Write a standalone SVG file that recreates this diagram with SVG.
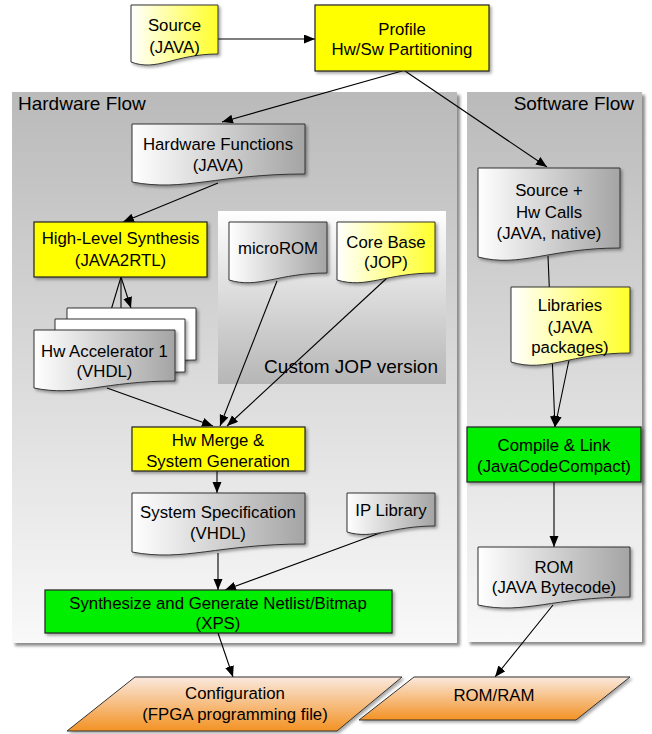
<svg xmlns="http://www.w3.org/2000/svg" width="652" height="734" viewBox="0 0 652 734">
<defs>
<linearGradient id="gPanel" x1="0" y1="0" x2="0" y2="1"><stop offset="0" stop-color="#bababa"/><stop offset="1" stop-color="#f9f9f9"/></linearGradient>
<linearGradient id="gJop" x1="0" y1="0" x2="0" y2="1"><stop offset="0" stop-color="#ffffff"/><stop offset="1" stop-color="#b6b6b6"/></linearGradient>
<linearGradient id="gGray" x1="0" y1="0" x2="1" y2="0"><stop offset="0" stop-color="#ffffff"/><stop offset="1" stop-color="#a4a4a4"/></linearGradient>
<linearGradient id="gYel" x1="0" y1="0" x2="1" y2="0"><stop offset="0" stop-color="#ffffff"/><stop offset="1" stop-color="#ffff2a"/></linearGradient>
<linearGradient id="gOr" x1="0" y1="0" x2="0" y2="1"><stop offset="0" stop-color="#fae9de"/><stop offset="1" stop-color="#f39224"/></linearGradient>
<filter id="sh" x="-10%" y="-10%" width="130%" height="130%"><feDropShadow dx="2" dy="2" stdDeviation="1.5" flood-color="#000" flood-opacity="0.35"/></filter>
<filter id="shp" x="-5%" y="-5%" width="115%" height="115%"><feDropShadow dx="3" dy="3" stdDeviation="1.5" flood-color="#000" flood-opacity="0.45"/></filter>
<marker id="ah" markerUnits="userSpaceOnUse" markerWidth="12" markerHeight="10" refX="11" refY="4.5" orient="auto"><path d="M0,0 L11,4.5 L0,9 Z" fill="#000"/></marker>
<style>
text{font-family:"Liberation Sans",Arial,sans-serif;font-size:16.8px;fill:#000;text-anchor:middle}
.lbl{font-size:19px}
.doc{stroke:#333;stroke-width:1;filter:url(#sh)}
.gray{fill:url(#gGray)}
.yel{fill:url(#gYel)}
.box{stroke:#222;stroke-width:1.2;filter:url(#sh)}
.ybox{fill:#ffff00}
.gbox{fill:#00ee00}
.out{fill:url(#gOr);stroke:#333;stroke-width:1;filter:url(#sh)}
.panel{fill:url(#gPanel);filter:url(#shp)}
#connectors path{fill:none;stroke:#000;stroke-width:1.1;marker-end:url(#ah)}
#connectors path.plain{marker-end:none}
</style>
</defs>
<g id="hardware-flow">
<rect class="panel" x="12" y="92" width="445" height="551"/>
<text class="lbl" x="18" y="110" style="text-anchor:start">Hardware Flow</text>
</g>
<g id="software-flow">
<rect class="panel" x="467" y="92" width="175" height="550"/>
<text class="lbl" x="634" y="110" style="text-anchor:end">Software Flow</text>
</g>
<g id="custom-jop">
<rect x="218" y="211" width="228" height="173" fill="url(#gJop)"/>
<text class="lbl" x="438" y="373" style="text-anchor:end">Custom JOP version</text>
</g>
<g id="connectors">
<path d="M218,39 L315,39"/>
<path d="M402,71 L222,122"/>
<path d="M405,71 L547,167"/>
<path d="M218,183 L123,222"/>
<path d="M121,277 L105,330"/>
<path d="M121,277 L121,319"/>
<path d="M121,277 L131,308"/>
<path d="M107,388 L213,426"/>
<path d="M277,281 L220,426"/>
<path d="M387,278 L227,426"/>
<path d="M217,471 L217,493"/>
<path d="M218,553 L218,590"/>
<path d="M388,530 L225,590"/>
<path d="M218,633 L233,677"/>
<path d="M548,256 L555,427"/>
<path d="M569,360 L555,427"/>
<path d="M554,482 L554,547"/>
<path d="M553,605 L495,677"/>
</g>
<g id="source">
<path class="doc yel" d="M131,5 H218 V54 C174.5,54 157.1,72 131,62 Z"/>
<text x="174.5" y="31">Source</text>
<text x="174.5" y="53">(JAVA)</text>
</g>
<g id="profile">
<rect class="box ybox" x="315" y="5" width="174" height="66"/>
<text x="402" y="35">Profile</text>
<text x="402" y="55">Hw/Sw Partitioning</text>
</g>
<g id="hardware-functions">
<path class="doc gray" d="M132,124 H305 V174 C218.5,174 183.9,192 132,182 Z"/>
<text x="218" y="150">Hardware Functions</text>
<text x="218" y="171">(JAVA)</text>
</g>
<g id="hls">
<rect class="box ybox" x="34" y="222" width="173" height="55"/>
<text x="120.5" y="244">High-Level Synthesis</text>
<text x="120.5" y="266">(JAVA2RTL)</text>
</g>
<g id="microrom">
<path class="doc gray" d="M229,222 H327 V273 C278,273 258.4,289 229,280 Z"/>
<text x="278" y="254">microROM</text>
</g>
<g id="core-base">
<path class="doc yel" d="M337,222 H435 V273 C386,273 366.4,289 337,280 Z"/>
<text x="386" y="248">Core Base</text>
<text x="386" y="268">(JOP)</text>
</g>
<g id="hw-accelerator">
<path class="doc" fill="#fff" d="M67,308 H196 V360 C131.5,360 105.7,378 67,368 Z"/>
<path class="doc" fill="#fff" d="M55,319 H185 V372 C120,372 94,390 55,380 Z"/>
<path class="doc gray" d="M34,330 H175 V381 C104.5,381 76.3,397 34,388 Z"/>
<text x="104.5" y="357">Hw Accelerator 1</text>
<text x="104.5" y="377">(VHDL)</text>
</g>
<g id="hw-merge">
<rect class="box ybox" x="132" y="427" width="173" height="44"/>
<text x="218" y="446">Hw Merge &amp;</text>
<text x="218" y="467">System Generation</text>
</g>
<g id="system-specification">
<path class="doc gray" d="M132,493 H305 V544 C218.5,544 183.9,562 132,552 Z"/>
<text x="218" y="518">System Specification</text>
<text x="218" y="539">(VHDL)</text>
</g>
<g id="ip-library">
<path class="doc gray" d="M347,493 H435 V526 C391,526 373.4,540 347,532 Z"/>
<text x="391" y="516">IP Library</text>
</g>
<g id="synthesize">
<rect class="box gbox" x="45" y="590" width="347" height="43"/>
<text x="218" y="609">Synthesize and Generate Netlist/Bitmap</text>
<text x="218" y="629">(XPS)</text>
</g>
<g id="source-hw-calls">
<path class="doc gray" d="M478,168 H620 V248 C549,248 520.6,268 478,257 Z"/>
<text x="549" y="196">Source +</text>
<text x="549" y="218">Hw Calls</text>
<text x="549" y="239">(JAVA, native)</text>
</g>
<g id="libraries">
<path class="doc yel" d="M511,287 H630 V353 C570.5,353 546.7,373 511,362 Z"/>
<text x="570" y="311">Libraries</text>
<text x="570" y="333">(JAVA</text>
<text x="570" y="353">packages)</text>
</g>
<g id="compile-link">
<rect class="box gbox" x="467" y="427" width="174" height="55"/>
<text x="554" y="451">Compile &amp; Link</text>
<text x="554" y="472">(JavaCodeCompact)</text>
</g>
<g id="rom">
<path class="doc gray" d="M478,547 H630 V597 C554,597 523.6,615 478,605 Z"/>
<text x="554" y="573">ROM</text>
<text x="554" y="593">(JAVA Bytecode)</text>
</g>
<g id="configuration">
<path class="out" d="M135,677 L402,677 L337,731 L67,731 Z"/>
<text x="235" y="699">Configuration</text>
<text x="235" y="720">(FPGA programming file)</text>
</g>
<g id="rom-ram">
<path class="out" d="M414,677 L630,677 L576,720 L359,720 Z"/>
<text x="494" y="701">ROM/RAM</text>
</g>
</svg>
